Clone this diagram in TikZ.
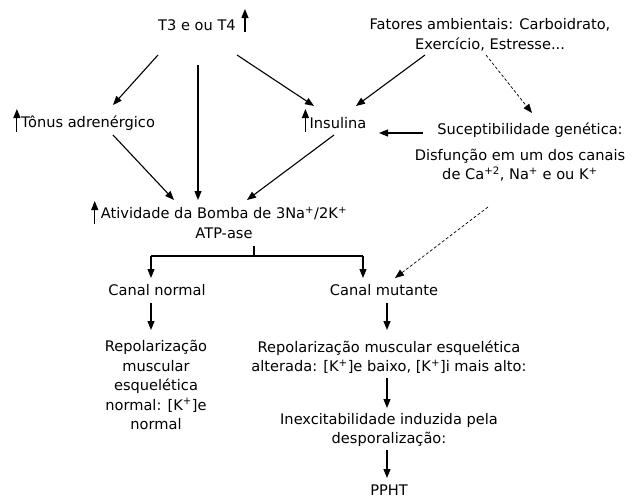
\documentclass[tikz,border=0pt]{standalone}
\usepackage{fontspec}
\setmainfont{DejaVu Sans}
\usetikzlibrary{arrows.meta,calc}
\begin{document}
\begin{tikzpicture}[x=1pt,y=-1pt,
  txt/.style={inner sep=0pt,align=center,font=\fontsize{14.6}{19.5}\selectfont},
  arr/.style={line width=1.1pt,-{Triangle[length=9pt,width=7pt]}},
  darr/.style={line width=0.7pt,dash pattern=on 3pt off 2pt,-{Triangle[length=9pt,width=7pt]}},
  ln/.style={line width=1.1pt}]
\useasboundingbox (0,0) rectangle (632,501);
\fill[white] (0,0) rectangle (632,501);
% nodes
\node[txt] (t3) at (197,25) {T3 e ou T4};
\node[txt] (fat) at (490,35) {Fatores ambientais: Carboidrato,\\Exercício, Estresse...};
\node[txt] (ton) at (88,123) {Tônus adrenérgico};
\node[txt] (ins) at (338,123) {Insulina};
\node[txt] (sus) at (530,130) {Suceptibilidade genética:};
\node[txt] (dis) at (520,165) {Disfunção em um dos canais\\de Ca\textsuperscript{+2}, Na\textsuperscript{+} e ou K\textsuperscript{+}};
\node[txt] (bom) at (224,223) {Atividade da Bomba de 3Na\textsuperscript{+}/2K\textsuperscript{+}\\ATP-ase};
\node[txt] (cn) at (157,290) {Canal normal};
\node[txt] (cm) at (384,290) {Canal mutante};
\node[txt] (rn) at (156,385) {Repolarização\\muscular\\esquelética\\normal: [K\textsuperscript{+}]e\\normal};
\node[txt] (rm) at (389,357) {Repolarização muscular esquelética\\alterada: [K\textsuperscript{+}]e baixo, [K\textsuperscript{+}]i mais alto:};
\node[txt] (inx) at (389,430) {Inexcitabilidade induzida pela\\desporalização:};
\node[txt] (pp) at (389,490) {PPHT};
% up arrows (increase markers)
\draw[arr] ([xshift=9pt,yshift=-7pt]t3.east) -- ++(0,-23);
\draw[arr] ([xshift=-4pt,yshift=-9pt]ton.west) -- ++(0,-23);
\draw[arr] ([xshift=-4pt,yshift=-9pt]ins.west) -- ++(0,-23);
\draw[arr] ([xshift=-6pt,yshift=-1pt]bom.west) -- ++(0,-23);
% connectors
\coordinate (c3a) at (158,55);
\coordinate (c3b) at (198,65);
\coordinate (c3c) at (237,55);
\coordinate (cfa) at (425,55);
\coordinate (cfb) at (486,55);
\draw[arr] (c3a) -- (113,105);
\draw[arr] (c3b) -- (198,200);
\draw[arr] (c3c) -- (314,106);
\draw[arr] (cfa) -- (356,106);
\draw[darr] (cfb) -- (532,113);
\draw[arr] (423,133) -- (379,133);
\draw[arr] (113,135) -- (174,200);
\draw[arr] (334,135) -- (247,200);
% split
\coordinate (st) at (254,246);
\coordinate (sl) at (151,256);
\coordinate (sr) at (363,256);
\draw[ln] (st) -- (254,256);
\draw[ln] (sl) -- (sr);
\draw[arr] (sl) -- (151,278);
\draw[arr] (sr) -- (363,278);
\draw[darr] (488,207) -- (395,278);
\draw[arr] (151,303) -- (151,330);
\draw[arr] (387,303) -- (387,330);
\draw[arr] (387,378) -- (387,408);
\draw[arr] (387,450) -- (387,478);
\end{tikzpicture}
\end{document}
